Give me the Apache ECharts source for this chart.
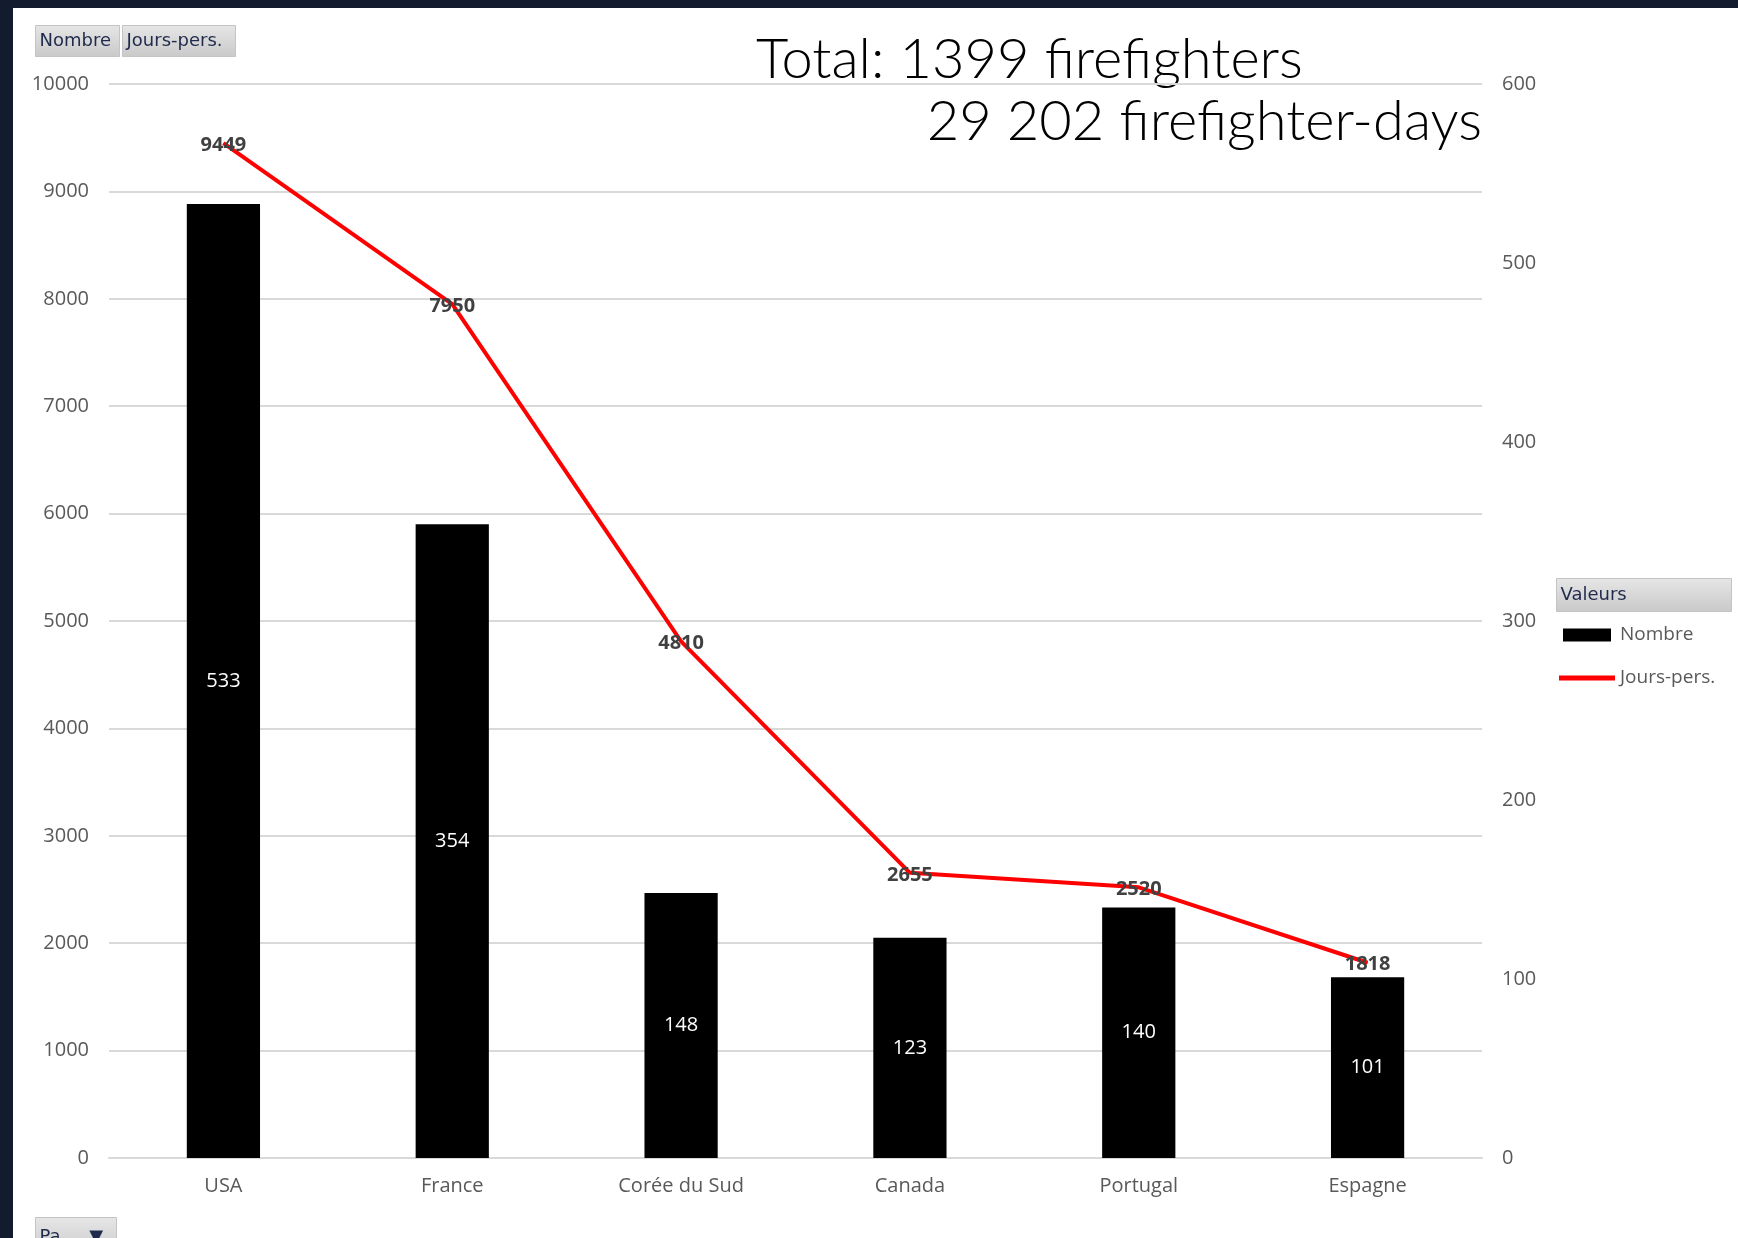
<!DOCTYPE html>
<html>
<head>
<meta charset="utf-8">
<script src="https://cdn.jsdelivr.net/npm/echarts@6/dist/echarts.min.js"></script>
<style>
html,body{margin:0;padding:0;width:1738px;height:1238px;overflow:hidden;background:#131b2e;}
#chart{position:absolute;left:13px;top:8px;width:1725px;height:1230px;background:#ffffff;}
</style>
</head>
<body>
<div id="chart"></div>
<script>
const categories = ['USA', 'France', 'Corée du Sud', 'Canada', 'Portugal', 'Espagne'];
const nombre = [533, 354, 148, 123, 140, 101];
const joursPers = [9449, 7950, 4810, 2655, 2520, 1818];
const leftTicks = {min: 0, max: 10000, interval: 1000};
const rightTicks = {min: 0, max: 600, interval: 100};
const titleLine1 = 'Total: 1399 firefighters';
const titleLine2 = '29 202 firefighter-days';

const chart = echarts.init(document.getElementById('chart'));
const labelFont = '"Open Sans", sans-serif';
const btnFont = '"DejaVu Sans", sans-serif';
const grad = new echarts.graphic.LinearGradient(0, 0, 0, 1, [
  {offset: 0, color: '#e6e6e6'}, {offset: 1, color: '#c9c9c9'}
]);
function button(x, y, w, h, text) {
  return {
    type: 'group', left: x, top: y, children: [
      {type: 'rect', shape: {x: 0, y: 0, width: w, height: h},
       style: {fill: grad, stroke: '#c4c4c4', lineWidth: 1}},
      {type: 'text', x: 4, y: h / 2,
       style: {text: text, fill: '#1f2a4d', font: '18px ' + btnFont, verticalAlign: 'middle'}}
    ]
  };
}
chart.setOption({
  animation: false,
  grid: {left: 96, right: 256, top: 76, bottom: 80, containLabel: false},
  legend: {
    orient: 'vertical', left: 1541, top: 611, itemWidth: 56, itemHeight: 13, itemGap: 21,
    textStyle: {color: '#595959', fontSize: 19, fontFamily: labelFont, lineHeight: 22},
    data: [
      {name: 'Nombre', icon: 'path://M0,0H48V13H0Z'},
      {name: 'Jours-pers.', icon: 'path://M0,0H55V5H0Z'}
    ]
  },
  xAxis: {
    type: 'category', data: categories,
    axisLine: {lineStyle: {color: '#d9d9d9', width: 2}},
    axisTick: {show: false},
    axisLabel: {color: '#595959', fontSize: 20, fontFamily: labelFont, margin: 18}
  },
  yAxis: [
    {type: 'value', min: leftTicks.min, max: leftTicks.max, interval: leftTicks.interval,
     axisLine: {show: false}, axisTick: {show: false},
     splitLine: {lineStyle: {color: '#d9d9d9', width: 2}},
     axisLabel: {color: '#595959', fontSize: 20, fontFamily: labelFont, margin: 20,
                 formatter: v => String(v)}},
    {type: 'value', min: rightTicks.min, max: rightTicks.max, interval: rightTicks.interval,
     position: 'right',
     axisLine: {show: false}, axisTick: {show: false}, splitLine: {show: false},
     axisLabel: {color: '#595959', fontSize: 20, fontFamily: labelFont, margin: 20,
                 formatter: v => String(v)}}
  ],
  series: [
    {name: 'Nombre', type: 'bar', yAxisIndex: 1, data: nombre, barWidth: '32%',
     itemStyle: {color: '#000000'},
     label: {show: true, position: 'inside', color: '#ffffff', fontSize: 20, fontFamily: labelFont}},
    {name: 'Jours-pers.', type: 'line', yAxisIndex: 0, data: joursPers,
     symbol: 'circle', symbolSize: 1, showSymbol: true,
     lineStyle: {color: '#ff0000', width: 4}, itemStyle: {color: '#ff0000'},
     label: {show: true, position: 'inside', offset: [0, 2], color: '#404040', fontSize: 20, fontWeight: 'bold', fontFamily: labelFont}}
  ],
  graphic: [
    {type: 'text', left: 743, top: 24, style: {text: titleLine1, fill: '#000000', font: '300 56px Lato, sans-serif'}},
    {type: 'text', right: 256, top: 86, style: {text: titleLine2, fill: '#000000', font: '300 56px Lato, sans-serif'}},
    button(22, 17, 84, 31, 'Nombre'),
    button(109, 17, 113, 31, 'Jours-pers.'),
    button(1543, 570, 175, 33, 'Valeurs'),
    button(22, 1209, 81, 40, 'Pa     ▼')
  ]
});
</script>
</body>
</html>
